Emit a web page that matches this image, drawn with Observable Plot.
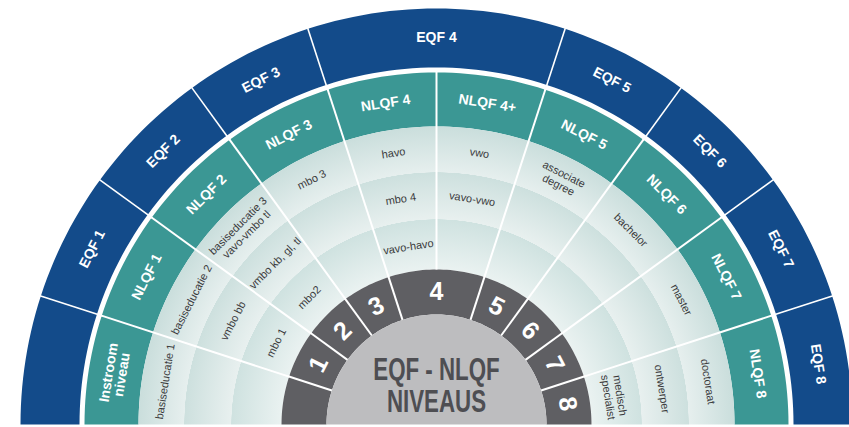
<!DOCTYPE html>
<html><head><meta charset="utf-8">
<script src="https://cdn.jsdelivr.net/npm/d3@7"></script>
<script src="https://cdn.jsdelivr.net/npm/@observablehq/plot@0.6"></script>
<style>body{margin:0;background:#fff;} svg{display:block}</style>
</head><body><div id="chart"></div>
<script>
// NLQF columns, left to right
const nlqfLevels = ["Instroom\nniveau","NLQF 1","NLQF 2","NLQF 3","NLQF 4","NLQF 4+","NLQF 5","NLQF 6","NLQF 7","NLQF 8"];
// EQF levels and the number of NLQF columns each one spans
const eqfLevels  = ["","EQF 1","EQF 2","EQF 3","EQF 4","EQF 5","EQF 6","EQF 7","EQF 8"];
const eqfNumbers = ["","1","2","3","4","5","6","7","8"];
const eqfSpan    = [1,1,1,1,2,1,1,1,1];
// qualifications per NLQF column, outer ring -> inner ring
const ringOuter  = ["basiseducatie 1","basiseducatie 2","basiseducatie 3\nvavo-vmbo tl","mbo 3","havo","vwo","associate\ndegree","bachelor","master","doctoraat"];
const ringMiddle = ["","vmbo bb","vmbo kb, gl, tl","","mbo 4","vavo-vwo","","","","ontwerper"];
const ringInner  = ["","mbo 1","mbo2","","vavo-havo","","","","","medisch\nspecialist"];
const centerTitle = ["EQF - NLQF", "NIVEAUS"];

// layout
const R = {disk:110, dark:155, b1:205, b2:252, light:298, teal:352, blue0:357, blue1:416};
const nCols = nlqfLevels.length;
const ang = d3.scaleLinear().domain([0, nCols]).range([Math.PI, 0]);
const polar = (p, r) => { const t = ang(p); return {x: r*Math.cos(t), y: r*Math.sin(t), rotate: 90 - t*180/Math.PI}; };

function sector(p0, p1, r0, r1, key) {
  const pts = [], n = Math.max(2, Math.ceil((p1 - p0) * 14));
  for (let k = 0; k <= n; k++) { const q = polar(p0 + (p1 - p0) * k / n, r1); pts.push({key, x:q.x, y:q.y}); }
  for (let k = n; k >= 0; k--) { const q = polar(p0 + (p1 - p0) * k / n, r0); pts.push({key, x:q.x, y:q.y}); }
  return pts;
}

// EQF spans -> column ranges
const eqfRanges = []; { let s = 0; eqfSpan.forEach((w, i) => { eqfRanges.push({i, p0:s, p1:s+w}); s += w; }); }

const blueSectors = eqfRanges.flatMap(d => sector(d.p0, d.p1, R.blue0, R.blue1, "e"+d.i));
const darkSectors = eqfRanges.flatMap(d => sector(d.p0, d.p1, R.disk, R.dark, "d"+d.i));
const tealSectors = nlqfLevels.flatMap((_, i) => sector(i, i+1, R.light, R.teal, "t"+i));
const lightSectors = nlqfLevels.flatMap((_, i) => sector(i, i+1, R.dark, R.light, "l"+i));
const diskPts = sector(0, nCols, 0, R.disk, "disk");

const eqfBounds = eqfRanges.slice(1).map(d => d.p0);
const nlqfBounds = d3.range(1, nCols);
const seg = (p, r0, r1) => { const a = polar(p, r0), b = polar(p, r1); return {x1:a.x, y1:a.y, x2:b.x, y2:b.y}; };
const linesBlue = eqfBounds.map(p => seg(p, R.blue0 - 6, R.blue1 + 1));
const linesDark = eqfBounds.map(p => seg(p, R.disk, R.dark + 1));
const linesLight = nlqfBounds.map(p => seg(p, R.dark, R.teal + 1));

const eqfText = eqfRanges.filter(d => eqfLevels[d.i]).map(d => ({text: eqfLevels[d.i], ...polar((d.p0+d.p1)/2, (R.blue0+R.blue1)/2)}));
const numText = eqfRanges.filter(d => eqfNumbers[d.i]).map(d => ({text: eqfNumbers[d.i], ...polar((d.p0+d.p1)/2, (R.disk+R.dark)/2)}));
const nlqfText = nlqfLevels.map((t, i) => ({text: t, ...polar(i+0.5, (R.light+R.teal)/2)}));
const cellText = [];
[[ringOuter, (R.b2+R.light)/2], [ringMiddle, (R.b1+R.b2)/2], [ringInner, (R.dark+R.b1)/2]].forEach(([arr, r]) =>
  arr.forEach((t, i) => { if (t) cellText.push({text: t, ...polar(i+0.5, r)}); }));
const titleRows = centerTitle.map((t, i) => ({text: t, x: 0, y: 54 - i * 31.5}));

const blue = "#134b8a", teal = "#3b9794", dark = "#5f5f63", grey = "#bdbdbf";
const sans = "'Liberation Sans', Arial, sans-serif";

const chart = Plot.plot({
  width: 849, height: 427, margin: 0,
  x: {domain: [-436, 413], axis: null},
  y: {domain: [-3, 424], axis: null},
  marks: [
    Plot.line(blueSectors, {x:"x", y:"y", z:"key", fill: blue, stroke: "none"}),
    Plot.line(tealSectors, {x:"x", y:"y", z:"key", fill: teal, stroke: "none"}),
    Plot.line(lightSectors, {x:"x", y:"y", z:"key", fill: "url(#lightGrad)", stroke: "none"}),
    Plot.line(darkSectors, {x:"x", y:"y", z:"key", fill: dark, stroke: "none"}),
    Plot.line(diskPts, {x:"x", y:"y", fill: grey, stroke: "none"}),
    Plot.link(linesBlue, {x1:"x1", y1:"y1", x2:"x2", y2:"y2", stroke: "white", strokeWidth: 1.6}),
    Plot.link(linesDark, {x1:"x1", y1:"y1", x2:"x2", y2:"y2", stroke: "white", strokeWidth: 2}),
    Plot.link(linesLight, {x1:"x1", y1:"y1", x2:"x2", y2:"y2", stroke: "white", strokeWidth: 2}),
    Plot.text(eqfText, {x:"x", y:"y", text:"text", rotate:"rotate", fill:"white", fontSize:14, fontWeight:"bold", fontFamily: sans}),
    Plot.text(numText, {x:"x", y:"y", text:"text", rotate:"rotate", fill:"white", fontSize:25, fontWeight:"bold", fontFamily: sans}),
    Plot.text(nlqfText, {x:"x", y:"y", text:"text", rotate:"rotate", fill:"white", fontSize:14, fontWeight:"bold", lineHeight: 0.95, fontFamily: sans}),
    Plot.text(cellText, {x:"x", y:"y", text:"text", rotate:"rotate", fill:"#3a3a3c", fontSize:11, lineHeight: 1.1, fontFamily: sans}),
    Plot.text(titleRows, {x:"x", y:"y", text:"text", fill:"#4e4e52", fontSize:31, fontWeight:"bold", fontFamily: sans})
  ]
});

// radial shading for the light qualification rings
const cx = chart.scale("x").apply(0), cy = chart.scale("y").apply(0);
const defs = d3.select(chart).insert("defs", ":first-child");
const g = defs.append("radialGradient").attr("id", "lightGrad").attr("gradientUnits", "userSpaceOnUse")
  .attr("cx", cx).attr("cy", cy).attr("r", R.light);
[[R.dark, "#eaf2f1"], [R.b1, "#cfe2e0"], [R.b1 + 0.3, "#e8f0ef"], [R.b2, "#cde0de"], [R.b2 + 0.3, "#e6efee"], [R.light, "#cadedc"]]
  .forEach(([r, c]) => g.append("stop").attr("offset", r / R.light).attr("stop-color", c));

// condensed centre title (horizontal squeeze around the centre)
d3.select(chart).selectAll("text").filter(function() { return centerTitle.includes(this.textContent); })
  .each(function() {
    const prev = this.getAttribute("transform") || "";
    this.setAttribute("transform", `translate(${cx},0) scale(0.72,1) translate(${-cx},0) ${prev}`);
  });

document.getElementById("chart").append(chart);
</script>
</body></html>
